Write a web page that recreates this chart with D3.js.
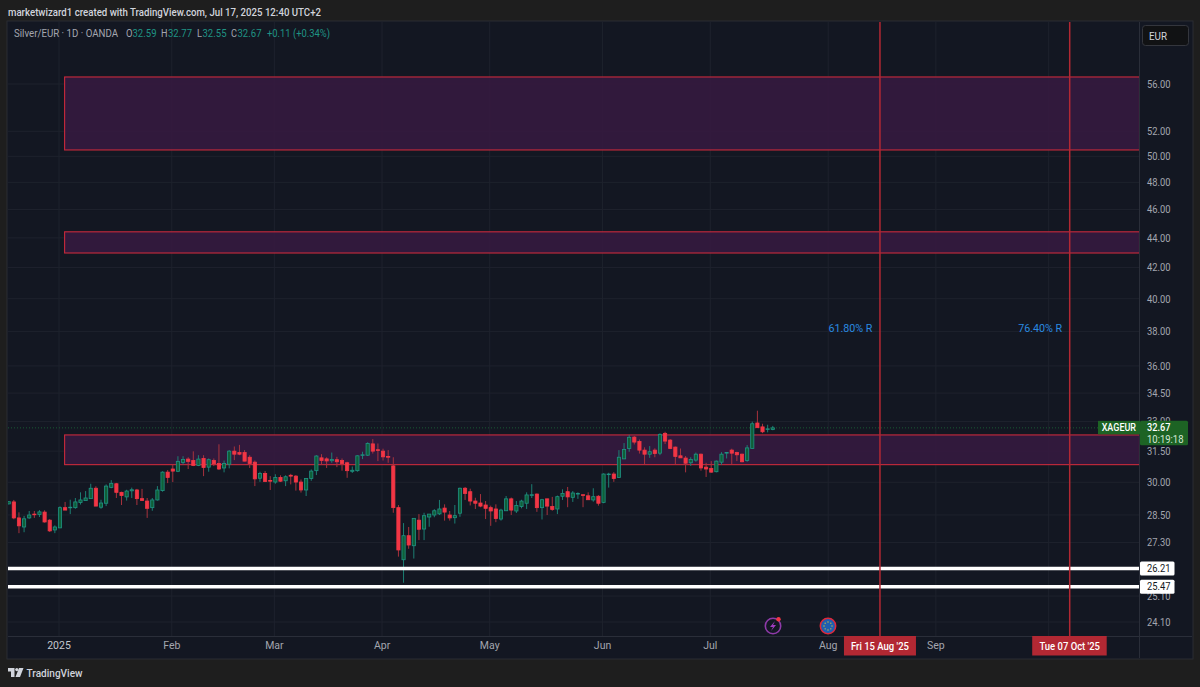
<!DOCTYPE html>
<html>
<head>
<meta charset="utf-8">
<script src="https://cdn.jsdelivr.net/npm/d3@7"></script>
<style>
  html, body { margin: 0; padding: 0; background: #1e1e1e; }
  svg { display: block; font-family: Roboto, sans-serif; }
</style>
</head>
<body>
<div id="chart"></div>
<script>
// Daily candles, one row = 10 bars
const opens = [
  29.00, 29.09, 28.37, 27.97, 28.37, 28.54, 28.52, 28.63, 28.27, 27.84,
  27.93, 28.83, 28.83, 28.83, 29.06, 29.15, 29.24, 29.72, 28.85, 29.03,
  29.76, 29.93, 29.53, 29.32, 29.60, 29.64, 29.24, 29.13, 28.83, 29.18,
  29.61, 30.48, 30.63, 30.52, 30.95, 31.11, 31.04, 30.80, 31.14, 30.72,
  31.04, 30.90, 30.68, 30.86, 31.50, 31.43, 31.43, 31.20, 30.96, 30.19,
  30.42, 30.08, 30.01, 30.23, 30.07, 30.33, 30.29, 30.01, 29.64, 30.18,
  30.55, 31.17, 31.12, 31.03, 31.08, 31.04, 30.93, 30.52, 30.55, 31.30,
  31.30, 31.86, 31.57, 31.50, 31.24, 30.78, 28.83, 26.57, 27.59, 27.16,
  28.27, 27.88, 28.41, 28.50, 28.55, 28.81, 28.50, 28.38, 28.58, 29.72,
  29.56, 29.13, 29.04, 28.95, 28.83, 28.77, 28.32, 28.69, 29.23, 28.68,
  28.88, 29.03, 29.39, 29.45, 28.83, 29.23, 28.88, 28.77, 29.35, 29.56,
  29.30, 29.45, 29.42, 29.37, 29.18, 29.35, 29.07, 30.36, 30.39, 30.23,
  31.12, 31.63, 32.20, 31.98, 31.55, 31.35, 31.55, 31.40, 32.39, 32.05,
  31.70, 31.27, 31.16, 30.93, 31.06, 31.35, 30.72, 30.66, 30.50, 30.96,
  31.40, 31.55, 31.43, 31.35, 31.04, 31.63, 32.92, 32.72, 32.60, 32.59
];
const closes = [
  29.10, 28.37, 28.02, 28.33, 28.50, 28.51, 28.64, 28.19, 27.80, 27.97,
  28.83, 28.72, 28.85, 29.09, 29.18, 29.27, 29.72, 28.90, 29.04, 29.82,
  29.95, 29.53, 29.38, 29.59, 29.65, 29.24, 29.16, 28.80, 29.18, 29.64,
  30.48, 30.23, 30.53, 31.00, 31.09, 31.00, 30.80, 31.11, 30.70, 31.08,
  30.88, 30.63, 30.90, 31.50, 31.35, 31.35, 31.01, 30.90, 30.16, 30.42,
  30.04, 30.05, 30.23, 30.05, 30.26, 30.29, 30.01, 29.64, 30.18, 30.53,
  31.26, 31.04, 31.02, 31.09, 30.98, 30.90, 30.55, 30.57, 31.27, 31.32,
  31.88, 31.50, 31.53, 31.22, 31.20, 28.83, 26.98, 27.59, 27.19, 28.35,
  27.87, 28.47, 28.54, 28.69, 28.77, 28.63, 28.37, 28.47, 29.72, 29.48,
  29.13, 29.03, 28.90, 28.80, 28.68, 28.34, 28.72, 29.23, 28.72, 28.93,
  29.13, 29.41, 29.42, 28.83, 29.19, 28.90, 28.75, 29.33, 29.48, 29.32,
  29.50, 29.48, 29.39, 29.19, 29.33, 29.03, 30.39, 30.39, 30.18, 31.20,
  31.58, 32.19, 31.95, 31.55, 31.35, 31.47, 31.38, 32.34, 32.00, 31.63,
  31.24, 31.17, 30.91, 31.09, 31.35, 30.68, 30.63, 30.48, 31.01, 31.35,
  31.43, 31.40, 31.32, 30.98, 31.66, 32.88, 32.68, 32.47, 32.62, 32.67
];
const highs = [
  29.12, 29.18, 28.62, 28.46, 28.68, 28.68, 28.72, 28.71, 28.32, 28.04,
  28.89, 29.09, 29.19, 29.27, 29.53, 29.59, 29.93, 29.81, 29.19, 29.90,
  30.10, 29.97, 29.56, 29.65, 29.75, 29.69, 29.69, 29.27, 29.27, 29.82,
  30.52, 30.58, 30.83, 31.25, 31.25, 31.20, 31.49, 31.30, 31.30, 31.14,
  31.14, 31.84, 31.04, 31.55, 31.73, 31.81, 31.55, 31.30, 31.04, 30.50,
  30.53, 30.29, 30.38, 30.33, 30.33, 30.40, 30.34, 30.13, 30.18, 30.61,
  31.30, 31.35, 31.20, 31.43, 31.22, 31.14, 30.98, 30.75, 31.30, 31.47,
  31.94, 32.10, 31.88, 31.62, 31.55, 31.20, 28.95, 28.14, 27.97, 28.35,
  28.54, 28.60, 28.54, 28.76, 29.18, 28.98, 28.68, 28.95, 29.75, 29.78,
  29.70, 29.28, 29.45, 29.13, 28.92, 28.98, 28.78, 29.36, 29.29, 29.13,
  29.19, 29.53, 29.91, 29.48, 29.23, 29.24, 29.32, 29.38, 29.67, 29.78,
  29.59, 29.53, 29.42, 29.53, 29.72, 29.40, 30.42, 30.45, 30.48, 31.55,
  31.90, 32.31, 32.25, 32.08, 31.69, 31.75, 31.64, 32.39, 32.47, 32.10,
  31.73, 31.63, 31.26, 31.20, 31.43, 31.38, 30.93, 31.01, 31.04, 31.45,
  31.43, 31.62, 31.47, 31.38, 31.80, 32.99, 33.56, 32.88, 32.83, 32.77
];
const lows = [
  28.98, 28.31, 27.70, 27.74, 28.33, 28.37, 28.41, 28.16, 27.75, 27.70,
  27.93, 28.72, 28.54, 28.78, 28.97, 29.15, 29.24, 28.90, 28.78, 28.90,
  29.72, 29.27, 28.95, 29.15, 29.27, 28.95, 29.13, 28.37, 28.69, 29.15,
  29.56, 29.96, 30.01, 30.48, 30.85, 30.63, 30.77, 30.77, 30.29, 30.50,
  30.77, 30.58, 30.47, 30.66, 31.06, 31.30, 31.00, 30.68, 29.82, 30.02,
  30.01, 29.64, 29.93, 30.01, 29.82, 29.90, 29.61, 29.52, 29.36, 30.07,
  30.34, 30.82, 30.68, 30.93, 30.72, 30.55, 30.21, 30.44, 30.50, 31.11,
  31.26, 31.38, 31.01, 31.04, 30.93, 28.60, 26.70, 25.63, 27.03, 26.62,
  27.40, 27.40, 27.98, 28.40, 28.50, 28.25, 28.25, 28.12, 28.42, 29.18,
  28.93, 28.77, 28.85, 28.32, 28.02, 28.18, 28.25, 28.69, 28.50, 28.59,
  28.80, 28.77, 29.27, 28.64, 28.30, 28.50, 28.69, 28.54, 29.18, 28.85,
  29.09, 29.23, 28.85, 29.18, 29.10, 28.92, 29.03, 29.75, 30.02, 30.21,
  31.11, 31.47, 31.83, 31.38, 30.85, 31.17, 31.20, 31.30, 31.85, 31.60,
  30.85, 31.17, 30.47, 30.78, 30.98, 30.55, 30.25, 30.45, 30.47, 30.83,
  31.14, 30.85, 31.01, 30.95, 30.98, 31.63, 32.67, 32.40, 32.44, 32.55
];

// Axis ticks (time ticks are bar indexes, the bars run on past the last candle)
const priceTicks = [56, 52, 50, 48, 46, 44, 42, 40, 38, 36, 34.5, 33, 31.5, 30, 28.5, 27.3, 25.1, 24.1];
const timeTickBars = [10, 32, 52, 73, 94, 116, 137, 160, 181, 203];
const timeTickLabels = ["2025", "Feb", "Mar", "Apr", "May", "Jun", "Jul", "Aug", "Sep", ""];

// Drawings on the chart
const zoneStartBar = 11;
const zoneTops = [56.62, 44.42, 32.31];
const zoneBottoms = [50.50, 42.97, 30.84];
const levelValues = [26.21, 25.47];
const markerBars = [170, 207];
const markerDates = ["Fri 15 Aug '25", "Tue 07 Oct '25"];
const markerNotes = ["61.80% R", "76.40% R"];
const noteValue = 38.15;
const lastPrice = 32.67;

const pane = { left: 8, top: 22, right: 1140, bottom: 636, outerRight: 1192, outerBottom: 658 };

// Le texte de référence est plus étroit que Roboto : on force la largeur
function fit(selection, width) {
    return selection.attr("textLength", width).attr("lengthAdjust", "spacingAndGlyphs");
}

const svg = d3.select("#chart").append("svg")
    .attr("width", 1200)
    .attr("height", 687);

svg.append("rect").attr("width", 1200).attr("height", 687).attr("fill", "#1e1e1e");
svg.append("rect")
    .attr("x", pane.left - 1).attr("y", pane.top - 1)
    .attr("width", pane.outerRight - pane.left + 2).attr("height", pane.outerBottom - pane.top + 2)
    .attr("fill", "#131722").attr("stroke", "#2a2c33");

svg.append("defs").append("clipPath").attr("id", "pane-clip")
    .append("rect")
    .attr("x", pane.left).attr("y", pane.top)
    .attr("width", pane.right - pane.left).attr("height", pane.bottom - pane.top);

// Échelles
const x = d3.scaleLinear().domain([0, 207]).range([8.7, 1070.2]);
const y = d3.scaleLog().domain([24.1, 56]).range([622, 84]);

const plot = svg.append("g").attr("clip-path", "url(#pane-clip)");

// Grille
plot.append("g").selectAll("line")
    .data(priceTicks)
    .join("line")
    .attr("x1", pane.left).attr("x2", pane.right)
    .attr("y1", d => y(d)).attr("y2", d => y(d))
    .attr("stroke", "#1e222d");
plot.append("g").selectAll("line")
    .data(timeTickBars)
    .join("line")
    .attr("x1", d => x(d) - 1).attr("x2", d => x(d) - 1)
    .attr("y1", pane.top).attr("y2", pane.bottom)
    .attr("stroke", "#1e222d");

// Zones
plot.append("g").selectAll("rect")
    .data(zoneTops)
    .join("rect")
    .attr("x", x(zoneStartBar) - 0.5)
    .attr("y", d => y(d))
    .attr("width", pane.right - x(zoneStartBar))
    .attr("height", (d, i) => y(zoneBottoms[i]) - y(d))
    .attr("fill", "#35193f")
    .attr("fill-opacity", 0.9)
    .attr("stroke", "#c92a3c")
    .attr("stroke-width", 1.1);

// Last price dotted line
plot.append("line")
    .attr("x1", pane.left).attr("x2", pane.right)
    .attr("y1", y(lastPrice)).attr("y2", y(lastPrice))
    .attr("stroke", "#1a5a34")
    .attr("stroke-dasharray", "1 2");

// Bougies
const bars = d3.range(opens.length);
const isUp = i => closes[i] >= opens[i];

plot.append("g").selectAll("line")
    .data(bars)
    .join("line")
    .attr("x1", i => x(i)).attr("x2", i => x(i))
    .attr("y1", i => y(highs[i])).attr("y2", i => y(lows[i]))
    .attr("stroke", i => isUp(i) ? "#1c7f73" : "#a8323d");

plot.append("g").selectAll("rect")
    .data(bars)
    .join("rect")
    .attr("x", i => x(i) - 1.6)
    .attr("width", 3.2)
    .attr("y", i => y(Math.max(opens[i], closes[i])))
    .attr("height", i => Math.max(0.6, Math.abs(y(opens[i]) - y(closes[i]))))
    .attr("fill", i => isUp(i) ? "#0f5f38" : "#f23645")
    .attr("stroke", i => isUp(i) ? "#1f9384" : "#f23645")
    .attr("stroke-width", 0.8);

// Niveaux blancs
plot.append("g").selectAll("line")
    .data(levelValues)
    .join("line")
    .attr("x1", pane.left).attr("x2", pane.right)
    .attr("y1", d => y(d)).attr("y2", d => y(d))
    .attr("stroke", "#ffffff")
    .attr("stroke-width", 3.5);

// Lignes verticales et notes
plot.append("g").selectAll("line")
    .data(markerBars)
    .join("line")
    .attr("x1", d => x(d) - 0.5).attr("x2", d => x(d) - 0.5)
    .attr("y1", pane.top).attr("y2", pane.bottom)
    .attr("stroke", "#b22833")
    .attr("stroke-width", 1.5);

plot.append("g").selectAll("text")
    .data(markerNotes)
    .join("text")
    .attr("x", (d, i) => x(markerBars[i]) - 8)
    .attr("y", y(noteValue))
    .attr("text-anchor", "end")
    .attr("dominant-baseline", "middle")
    .attr("font-size", 11)
    .attr("fill", "#2a8ae0")
    .call(fit, 44)
    .text(d => d);

// Axes
svg.append("line")
    .attr("x1", pane.right - 0.5).attr("x2", pane.right - 0.5)
    .attr("y1", pane.top).attr("y2", pane.outerBottom)
    .attr("stroke", "#2a2e39");
svg.append("line")
    .attr("x1", pane.left).attr("x2", pane.outerRight)
    .attr("y1", pane.bottom + 0.5).attr("y2", pane.bottom + 0.5)
    .attr("stroke", "#2a2e39");

const priceAxis = svg.append("g")
    .attr("transform", `translate(${pane.right},0)`)
    .call(d3.axisRight(y).tickValues(priceTicks).tickFormat(d3.format(".2f")).tickSize(0).tickPadding(7));
const timeAxis = svg.append("g")
    .attr("transform", `translate(-1.5,${pane.bottom})`)
    .call(d3.axisBottom(x).tickValues(timeTickBars).tickFormat((d, i) => timeTickLabels[i]).tickSize(0).tickPadding(6));
[priceAxis, timeAxis].forEach(axis => {
    axis.select(".domain").remove();
    axis.selectAll("text")
        .attr("fill", "#a3a6af")
        .attr("font-size", 10.5)
        .attr("font-family", "Roboto, sans-serif");
});
priceAxis.selectAll("text").call(fit, 23.5);
timeAxis.selectAll("text").filter(d => d === timeTickBars[0]).attr("fill", "#c4c7cf");

// Étiquettes de prix
const levelLabels = svg.append("g").selectAll("g")
    .data(levelValues)
    .join("g")
    .attr("transform", d => `translate(${pane.right},${y(d)})`);
levelLabels.append("rect")
    .attr("y", -7).attr("width", 34.5).attr("height", 14).attr("rx", 1.5)
    .attr("fill", "#ffffff");
levelLabels.append("text")
    .attr("x", 7).attr("dy", "0.35em")
    .attr("font-size", 10.5)
    .attr("fill", "#131722")
    .call(fit, 23.5)
    .text(d => d.toFixed(2));

const lastTag = svg.append("g").attr("transform", `translate(${pane.right},${y(lastPrice)})`);
lastTag.append("rect").attr("x", -42).attr("y", -7).attr("width", 42).attr("height", 13.5).attr("fill", "#1d6324");
lastTag.append("rect").attr("y", -7).attr("width", 48).attr("height", 24.5).attr("rx", 1.5).attr("fill", "#1d6324");
lastTag.append("text").attr("x", -38.3).attr("dy", "0.3em").attr("font-size", 10.5).attr("font-weight", 500).attr("fill", "#ffffff").call(fit, 34.3).text("XAGEUR");
lastTag.append("text").attr("x", 7).attr("dy", "0.3em").attr("font-size", 10.5).attr("font-weight", 500).attr("fill", "#ffffff").call(fit, 23.5).text(lastPrice.toFixed(2));
lastTag.append("text").attr("x", 7).attr("y", 11.5).attr("dy", "0.3em").attr("font-size", 10.5).attr("fill", "#d6e8d6").call(fit, 36.5).text("10:19:18");

// Étiquettes de dates
const dateLabels = svg.append("g").selectAll("g")
    .data(markerDates)
    .join("g")
    .attr("transform", (d, i) => `translate(${x(markerBars[i]) - 0.5},${pane.bottom})`);
dateLabels.append("rect")
    .attr("x", (d, i) => i === 0 ? -36 : -37.5)
    .attr("width", (d, i) => i === 0 ? 72 : 74.5)
    .attr("height", 19.5)
    .attr("fill", "#b22833");
dateLabels.append("text")
    .attr("y", 13.5)
    .attr("text-anchor", "middle")
    .attr("font-size", 10.5)
    .attr("font-weight", 500)
    .attr("fill", "#ffffff")
    .call(fit, (d, i) => i === 0 ? 58 : 60.5)
    .text(d => d);

// Titre et légende
svg.append("text")
    .attr("x", 8).attr("y", 15.5)
    .attr("font-size", 11).attr("font-weight", 500)
    .attr("fill", "#d1d4dc")
    .call(fit, 313)
    .text("marketwizard1 created with TradingView.com, Jul 17, 2025 12:40 UTC+2");

const legendItems = [
    { x: 14, t: "Silver/EUR · 1D · OANDA", c: "#a3a6af", w: 104 },
    { x: 126, t: "O", c: "#a3a6af", w: 6.5 }, { x: 132.5, t: "32.59", c: "#1f9384", w: 24 },
    { x: 161, t: "H", c: "#a3a6af", w: 6.5 }, { x: 168, t: "32.77", c: "#1f9384", w: 24 },
    { x: 197, t: "L", c: "#a3a6af", w: 5 }, { x: 202.5, t: "32.55", c: "#1f9384", w: 24 },
    { x: 231, t: "C", c: "#a3a6af", w: 6 }, { x: 237.5, t: "32.67", c: "#1f9384", w: 24 },
    { x: 267, t: "+0.11 (+0.34%)", c: "#1f9384", w: 63 }
];
svg.append("g").selectAll("text")
    .data(legendItems)
    .join("text")
    .attr("x", d => d.x).attr("y", 37)
    .attr("font-size", 10.5)
    .attr("fill", d => d.c)
    .call(fit, d => d.w)
    .text(d => d.t);

// Bouton EUR
svg.append("rect")
    .attr("x", 1142.5).attr("y", 25.5).attr("width", 46).attr("height", 20).attr("rx", 3)
    .attr("fill", "#111214").attr("stroke", "#34363d");
svg.append("text")
    .attr("x", 1149).attr("y", 39.5)
    .attr("font-size", 11).attr("fill", "#d1d4dc")
    .call(fit, 18)
    .text("EUR");

// Icônes d'événements
const bolt = svg.append("g").attr("transform", "translate(773,626)");
bolt.append("circle").attr("r", 7.7).attr("fill", "#131722").attr("stroke", "#8e3aa8").attr("stroke-width", 1.6);
bolt.append("path").attr("d", "M2,-5 L-3,1 L0,1 L-2,5 L3,-1 L0,-1 Z").attr("fill", "#a23cc0");
bolt.append("circle").attr("cx", 5.5).attr("cy", -6.8).attr("r", 2.2).attr("fill", "#f23645");

const euro = svg.append("g").attr("transform", "translate(828,626)");
euro.append("circle").attr("r", 7.7).attr("fill", "#1f5fb0").attr("stroke", "#e0283a").attr("stroke-width", 1.5);
euro.selectAll("circle.star")
    .data(d3.range(8))
    .join("circle")
    .attr("class", "star")
    .attr("cx", d => 4 * Math.cos(d * Math.PI / 4))
    .attr("cy", d => 4 * Math.sin(d * Math.PI / 4))
    .attr("r", 0.7)
    .attr("fill", "#d8c23a");

// Logo TradingView
svg.append("path")
    .attr("d", "M8,668 H14.5 V677 H11 V671.5 H8 Z M19,668 H23.5 L20,677 H15.5 Z")
    .attr("fill", "#d1d4dc");
svg.append("circle").attr("cx", 16.8).attr("cy", 669.6).attr("r", 1.6).attr("fill", "#d1d4dc");
svg.append("text")
    .attr("x", 26.5).attr("y", 676.5)
    .attr("font-size", 11.5).attr("font-weight", 500)
    .attr("fill", "#d1d4dc")
    .call(fit, 56)
    .text("TradingView");
</script>
</body>
</html>
